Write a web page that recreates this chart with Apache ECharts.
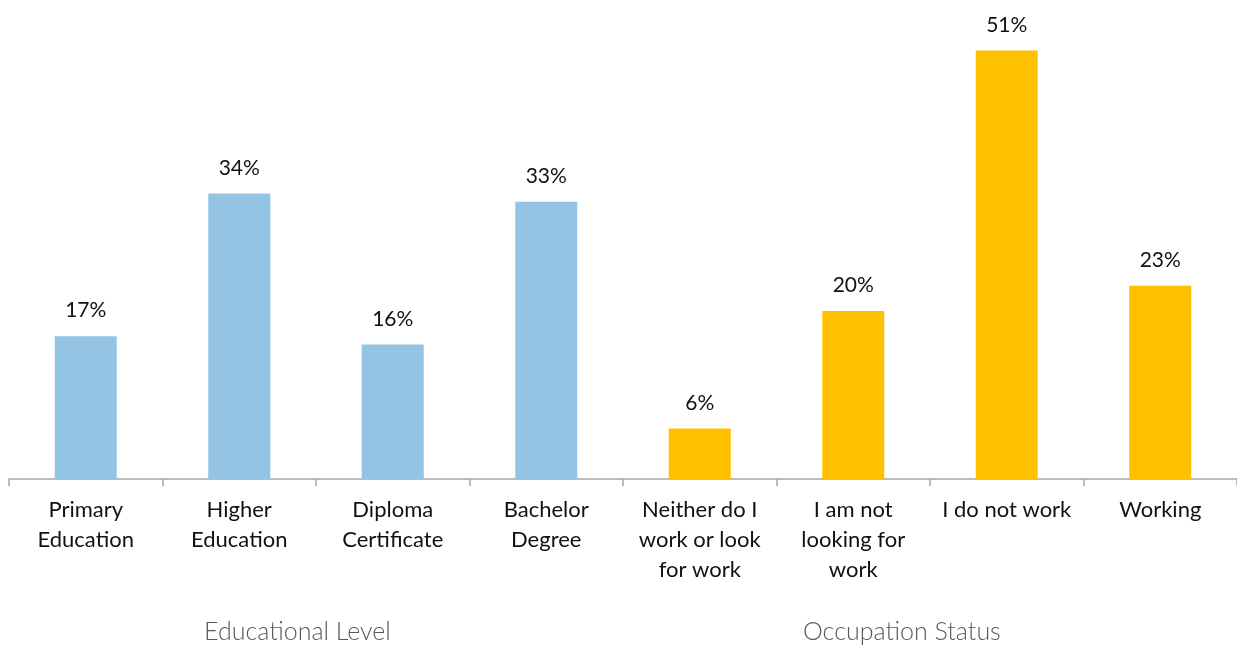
<!DOCTYPE html>
<html><head><meta charset="utf-8">
<script src="https://cdn.jsdelivr.net/npm/echarts@6/dist/echarts.min.js"></script>
<style>html,body{margin:0;padding:0;background:#fff}#c{width:1237px;height:646px}</style>
</head><body><div id="c"></div>
<script>
const categories = ["Primary\nEducation","Higher\nEducation","Diploma\nCertificate","Bachelor\nDegree","Neither do I\nwork or look\nfor work","I am not\nlooking for\nwork","I do not work","Working"];
const values = [17,34,16,33,6,20,51,23];
const groups = ["edu","edu","edu","edu","occ","occ","occ","occ"];
const groupTitles = ["Educational Level","Occupation Status"];
const colors = {edu:"#93C4E4", occ:"#FFC000"};

const chart = echarts.init(document.getElementById('c'));
chart.setOption({
  animation:false,
  grid:{left:9,right:-1,top:17,height:462,containLabel:false},
  xAxis:{type:'category',data:categories,
    axisLine:{lineStyle:{color:'#A6A6A6',width:1.5}},
    axisTick:{show:true,length:7,lineStyle:{color:'#A6A6A6',width:1.5}},
    axisLabel:{interval:0,color:'#111',fontFamily:'Lato',fontSize:22,lineHeight:30,margin:16}},
  yAxis:{type:'value',min:0,max:55,show:false,splitLine:{show:false}},
  series:[{type:'bar',barWidth:62,
    data:values.map((v,i)=>({value:v,itemStyle:{color:colors[groups[i]]}})),
    label:{show:true,position:'top',distance:15,formatter:'{c}%',color:'#111',fontFamily:'Lato',fontSize:21}}],
  graphic:[
    {type:'text',left:204,top:619,style:{text:groupTitles[0],fontFamily:'Lato',fontWeight:300,fontSize:25,fill:'#595959'}},
    {type:'text',left:803,top:619,style:{text:groupTitles[1],fontFamily:'Lato',fontWeight:300,fontSize:25,fill:'#595959'}}
  ]
});
</script></body></html>
